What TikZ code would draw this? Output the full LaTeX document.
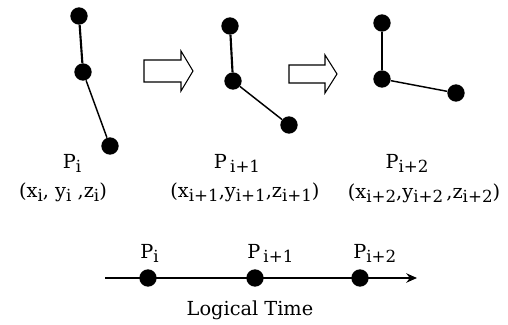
\documentclass[tikz,border=0pt]{standalone}
\usepackage{fontspec}
\setmainfont{DejaVu Serif}
\usepackage{tikz}
\usetikzlibrary{arrows.meta, positioning, calc}
\definecolor{mydark}{RGB}{0,0,0}
\newcommand{\lowidx}[1]{\raisebox{-0.4ex}{\fontsize{12.5}{12.5}\selectfont #1}}
\tikzset{
  joint/.style={circle, fill=mydark, inner sep=0pt, minimum size=13pt},
  link/.style={line width=1.6pt, color=mydark},
  thinlink/.style={line width=1.1pt, color=mydark},
  blockarrow/.style={draw=mydark, fill=white, line width=0.8pt, line join=miter},
  timeline/.style={-{Stealth[length=8pt,width=7pt]}, line width=2pt, color=mydark},
  lbl/.style={font=\fontsize{14.5}{16}\selectfont, inner sep=0pt}
}

\begin{document}
\begin{tikzpicture}[x=0.75pt, y=0.75pt]
  \useasboundingbox (0,0) rectangle (508,325);
  % ── Pose i ──
  \node[joint] (a1) at (79,309) {};
  \node[joint] (b1) at (83,253) {};
  \node[joint] (c1) at (110,179) {};
  \draw[link] (a1) -- (b1);
  \draw[thinlink] (b1) -- (c1);
  \node[lbl] (p1) at (72,162) {P\lowidx{i}};
  \node[lbl] (q1) at (63,133) {(x\lowidx{i}, y\lowidx{i}\ ,z\lowidx{i})};
  % ── Pose i+1 ──
  \node[joint] (a2) at (230,299) {};
  \node[joint] (b2) at (233,244) {};
  \node[joint] (c2) at (289,200) {};
  \draw[link] (a2) -- (b2);
  \draw[thinlink] (b2) -- (c2);
  \node[lbl] (p2) at (237,162) {P\,\lowidx{i+1}};
  \node[lbl] (q2) at (245,133) {(x\lowidx{i+1},y\lowidx{i+1},z\lowidx{i+1})};
  % ── Pose i+2 ──
  \node[joint] (a3) at (382,302) {};
  \node[joint] (b3) at (382,246) {};
  \node[joint] (c3) at (456,232) {};
  \draw[link] (a3) -- (b3);
  \draw[thinlink] (b3) -- (c3);
  \node[lbl] (p3) at (407,162) {P\lowidx{i+2}};
  \node[lbl] (q3) at (424,132) {(x\lowidx{i+2},y\lowidx{i+2}\,,z\lowidx{i+2})};
  % ── Hollow arrows between poses ──
  \draw[blockarrow] (144,243) -- (181,243) -- (181,234) -- (193,254)
    -- (181,274) -- (181,265) -- (144,265) -- cycle;
  \draw[blockarrow] (289,242) -- (325,242) -- (325,232) -- (337,251)
    -- (325,270) -- (325,260) -- (289,260) -- cycle;
  % ── Logical time axis ──
  \coordinate (tstart) at (105,47);
  \coordinate (tend) at (417,47);
  \draw[timeline] (tstart) -- (tend);
  \node[joint] (t1) at (148,47) {};
  \node[joint] (t2) at (255,47) {};
  \node[joint] (t3) at (360,47) {};
  \node[lbl, anchor=west] (l1) at (140,72) {P\lowidx{i}};
  \node[lbl, anchor=west] (l2) at (247,72) {P\,\lowidx{i+1}};
  \node[lbl, anchor=west] (l3) at (353,72) {P\lowidx{i+2}};
  \node[lbl] (lt) at (250,15) {Logical Time};
\end{tikzpicture}
\end{document}
